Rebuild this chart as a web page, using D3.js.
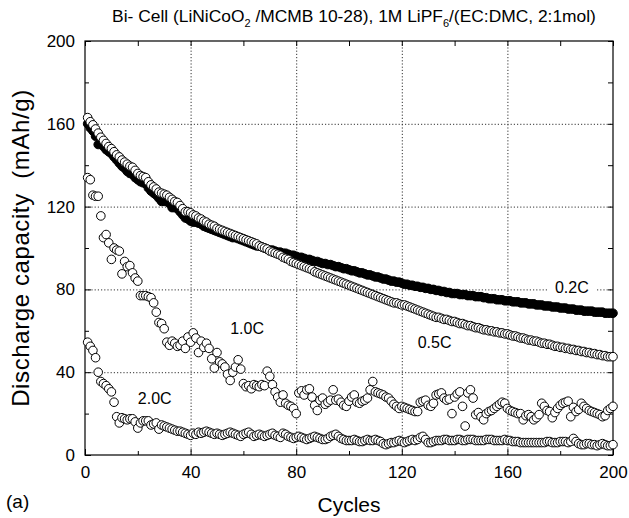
<!DOCTYPE html>
<html>
<head>
<meta charset="utf-8">
<script src="https://cdn.jsdelivr.net/npm/d3@7"></script>
<style>
  body { margin: 0; background: #fff; }
  text { font-family: "Liberation Sans", Arial, sans-serif; fill: #000; }
</style>
</head>
<body>
<svg id="chart"></svg>
<script>
// cycle numbers 1..200
const cycles = d3.range(1, 201);

// discharge capacity (mAh/g) per cycle
const cap02C = [
  160,158,156.5,154,150,150.5,149,147.5,146.5,145.5,
  144,142.5,141,139.5,138.5,137,136,135.5,134,133,
  132,131.5,131,129,127.5,126.5,125.5,124,122.5,122.5,
  122.5,121.5,119.5,119.5,119,117.5,116,114.5,114,113,
  112.5,112.5,112,111.5,110.5,110,109.5,109,108.5,108,
  107.5,107,106.5,106,105.5,105,105,104.5,104,103.5,
  103,102.5,102,101.5,101,101,100.5,100,99.5,99,
  99,98.5,98,98,97.5,97.5,97,96.5,96.5,96,
  95.5,95.5,95,94.5,94.5,94,93.5,93.5,93,92.5,
  92.5,92,92,91.5,91,91,90.5,90,90,89.5,
  89,89,88.5,88,88,87.5,87,87,86.5,86,
  86,85.5,85,85,84.5,84,84,83.5,83.5,83,
  82.5,82.5,82,82,81.5,81.5,81,81,80.5,80.5,
  80,80,79.5,79.5,79,79,78.5,78.5,78,78,
  78,77.5,77.5,77.5,77,77,77,76.5,76.5,76.5,
  76,76,75.5,75.5,75.5,75,75,75,74.5,74.5,
  74.5,74,74,74,73.5,73.5,73.5,73,73,73,
  72.5,72.5,72.5,72,72,72,71.5,71.5,71.5,71,
  71,71,70.5,70.5,70.5,70,70,70,69.5,69.5,
  69.5,69.5,69,69,69,69,68.5,68.5,68.5,68.5
];

const cap05C = [
  163,161,159.5,157.5,155.5,153.5,152,150.5,149,148,
  146.5,145,144,142.5,141.5,140.5,139.5,139,137.5,136,
  135,134.5,134,132,130.5,129.5,128.5,127,126.5,126,
  125.5,124.5,123.5,122.5,122,120.5,119,117.5,117.5,117,
  116,115.5,114.5,114,113,112.5,111.5,111,110.5,109.5,
  109,108.5,108,107.5,107,106.5,106,105.5,105,104.5,
  104,103.5,103,102.5,102,101,100.5,100,99.5,98.5,
  98,97.5,97,96.5,95.5,95,94.5,93.5,93,92.5,
  92,91.5,91,90.5,90,89.5,88.5,88,87.5,87,
  86.5,86,85.5,85,84.5,84,83.5,83,82.5,82,
  81.5,81,80.5,80,79.5,79,78.5,78,77.5,77,
  76.5,76,75.5,75,74.5,74,73.5,73.5,73,72.5,
  72.5,72,71.5,71,70.5,70,69.5,69,68.5,68,
  67.5,67,66.5,66.5,66,65.5,65.5,65,64.5,64.5,
  64,63.5,63.5,63,62.5,62.5,62,61.5,61.5,61,
  60.5,60.5,60,60,59.5,59.5,59,59,58.5,58.5,
  58,57.5,57.5,57,56.5,56.5,56,55.5,55.5,55,
  55,54.5,54,54,53.5,53.5,53,52.5,52.5,52,
  52,51.5,51.5,51,51,50.5,50.5,50,50,49.5,
  49.5,49,49,48.5,48.5,48,48,47.5,47.5,47.5
];

const cap10C = [
  134,133,125.5,125,125,115.5,105,106.5,102.5,94.5,
  100,99,98.5,87.5,93.5,91,91.5,88,85.5,84,
  77,77,77,76.5,76,73.5,69,64,63.5,61,
  54.5,53,55,54,52.5,53,55,51.5,57,54.5,
  59,56.5,49.5,55,52,54,51.5,46.5,42,49.5,
  45,44,42.5,39,36,40,42.5,46,41.5,34.5,
  33,33.5,32,34,33.5,33,34,33.5,40.5,38,
  34,30.5,28,25.5,29,25,24,23.5,22.5,20,
  30,31,29,31.5,32,28,24,21.5,26.5,27.5,
  24.5,25.5,26.5,31.5,26.5,27,25.5,24,23.5,26,
  28,29,25.5,25,26,26.5,27.5,31.5,35.5,30.5,
  30,29.5,29,28,27.5,26,24.5,23.5,22.5,23.5,
  23,22.5,22,21.5,21,21,25.5,26,26.5,24,
  23.5,25,29,29.5,30,27.5,26.5,27,20,28,
  29.5,30.5,23.5,14,30,31.5,27.5,19.5,20.5,18.5,
  17,20,21,21.5,22.5,23.5,24.5,25.5,25,22.5,
  21.5,21,20.5,20,20,17,19,19.5,18.5,17,
  18,19.5,25,23.5,21.5,21,18,20.5,22.5,24,
  25,25.5,26,18.5,23,21,22,25,23.5,22.5,
  21.5,21,20.5,20,19.5,18.5,19,21.5,22.5,23.5
];

const cap20C = [
  54.5,52.5,50.5,47,40,35.5,34.5,33.5,32,30.5,
  25.5,18.5,15.5,18,17.5,17,17.5,17.5,16,13,
  15.5,16.5,16.5,16.5,14.5,15,15.5,12.5,14.5,14,
  13.5,13,12.5,12,11.5,11.5,11,10.5,10,9.5,
  10.5,10,11,10.5,11,11.5,11,10.5,10,10.5,
  10,9.5,10,10.5,11,10.5,10,9.5,9,10,
  10.5,11,10,9,9.5,10,9.5,9,9.5,10,
  10.5,9.5,9,8.5,10.5,10,9,8.5,8,8.5,
  9,8.5,8,7.5,8,8.5,9,8.5,8,7.5,
  7.5,8,9,9.5,10,9,8,7.5,7,7,
  7,7.5,7,6.5,6.5,7,7.5,7,7,7.5,
  7,6.5,5.5,5,5.5,6,6,6.5,7,6.5,
  6,6.5,7,7.5,7,7.5,8.5,9,7.5,6,
  6,6.5,7,7,7,7.5,7.5,7,7,7,
  7.5,7.5,7,7,7.5,7.5,7.5,7,7,7,
  7,7.5,7.5,7.5,7,7,7,7,7.5,7,
  7,6.5,6.5,6.5,6,6,6,6,6,6,
  6,6,6,6,6.5,6.5,6,6,6,6.5,
  6.5,6.5,6,6.5,8,6.5,5.5,5,5,5.5,
  5.5,5,5,4.5,5,5.5,5,4.5,4.5,5
];

const seriesNames = ['0.2C', '0.5C', '1.0C', '2.0C'];
const seriesValues = [cap02C, cap05C, cap10C, cap20C];
const seriesFilled = [true, false, false, false];
const labelPos = [[178, 81], [126, 54.5], [55, 61], [20, 27.5]]; // [cycle, capacity] where each label starts

const majorTicks = [0, 40, 80, 120, 160, 200];
const minorTicks = [20, 60, 100, 140, 180];

const width = 629, height = 518;
const marginTop = 41, marginRight = 16, marginBottom = 63, marginLeft = 85;

const x = d3.scaleLinear([0, 200], [marginLeft, width - marginRight]);
const y = d3.scaleLinear([0, 200], [height - marginBottom, marginTop]);

const svg = d3.select('#chart')
  .attr('width', width)
  .attr('height', height)
  .attr('viewBox', [0, 0, width, height]);

// Dotted grid
svg.append('g')
  .attr('stroke', '#333')
  .attr('stroke-width', 1)
  .attr('stroke-dasharray', '1.2,2')
  .call(g => g.selectAll('.gx')
    .data(majorTicks.slice(1, -1))
    .join('line')
      .attr('x1', d => x(d) + 0.5).attr('x2', d => x(d) + 0.5)
      .attr('y1', y(200)).attr('y2', y(0)))
  .call(g => g.selectAll('.gy')
    .data(majorTicks.slice(1, -1))
    .join('line')
      .attr('x1', x(0)).attr('x2', x(200))
      .attr('y1', d => y(d) + 0.5).attr('y2', d => y(d) + 0.5));

// Axes, ticks pointing inward on all four sides
const styleAxis = g => g
  .call(g => g.select('.domain').remove())
  .call(g => g.selectAll('.tick line').attr('stroke', '#000'))
  .call(g => g.selectAll('.tick text')
    .attr('font-family', '"Liberation Sans", Arial, sans-serif')
    .attr('font-size', 17));

svg.append('g')
  .attr('transform', `translate(0,${y(0)})`)
  .call(d3.axisBottom(x).tickValues(majorTicks).tickSize(-6).tickPadding(11).tickFormat(d3.format('d')))
  .call(styleAxis);
svg.append('g')
  .attr('transform', `translate(0,${y(0)})`)
  .call(d3.axisBottom(x).tickValues(minorTicks).tickSize(-4).tickFormat(''))
  .call(styleAxis);
svg.append('g')
  .attr('transform', `translate(0,${y(200)})`)
  .call(d3.axisTop(x).tickValues(majorTicks.concat(minorTicks)).tickSize(-5).tickFormat(''))
  .call(styleAxis);

svg.append('g')
  .attr('transform', `translate(${x(0)},0)`)
  .call(d3.axisLeft(y).tickValues(majorTicks).tickSize(-6).tickPadding(10).tickFormat(d3.format('d')))
  .call(styleAxis);
svg.append('g')
  .attr('transform', `translate(${x(0)},0)`)
  .call(d3.axisLeft(y).tickValues(minorTicks).tickSize(-4).tickFormat(''))
  .call(styleAxis);
svg.append('g')
  .attr('transform', `translate(${x(200)},0)`)
  .call(d3.axisRight(y).tickValues(majorTicks.concat(minorTicks)).tickSize(-5).tickFormat(''))
  .call(styleAxis);

// Frame
svg.append('rect')
  .attr('x', x(0)).attr('y', y(200))
  .attr('width', x(200) - x(0)).attr('height', y(0) - y(200))
  .attr('fill', 'none').attr('stroke', '#000').attr('stroke-width', 1.2);

// Series labels (0.2C sits on a white patch over the grid line)
const labels = svg.append('g')
  .attr('font-size', 16)
  .selectAll('g')
  .data(seriesNames)
  .join('g')
    .attr('transform', (d, i) => `translate(${x(labelPos[i][0])},${y(labelPos[i][1])})`);
labels.filter((d, i) => i === 0)
  .append('rect')
    .attr('x', -6).attr('y', -11).attr('width', 48).attr('height', 20)
    .attr('fill', '#fff');
labels.append('text')
  .attr('dy', '0.35em')
  .text(d => d);

// Points
seriesValues.forEach((vals, s) => {
  svg.append('g')
    .attr('stroke', '#000')
    .attr('stroke-width', 1)
    .attr('fill', seriesFilled[s] ? '#000' : '#fff')
    .selectAll('circle')
    .data(cycles)
    .join('circle')
      .attr('cx', (c) => x(c))
      .attr('cy', (c, i) => y(vals[i]))
      .attr('r', 4.3);
});

// Title with subscripts
const title = svg.append('text')
  .attr('x', 354)
  .attr('y', 22)
  .attr('text-anchor', 'middle')
  .attr('font-size', 17.4);
title.append('tspan').text('Bi- Cell (LiNiCoO');
title.append('tspan').attr('font-size', 11).attr('dy', 5).text('2');
title.append('tspan').attr('dy', -5).text(' /MCMB 10-28), 1M LiPF');
title.append('tspan').attr('font-size', 11).attr('dy', 5).text('6');
title.append('tspan').attr('dy', -5).text('/(EC:DMC, 2:1mol)');

// Axis titles
svg.append('text')
  .attr('transform', `translate(29,${(y(0) + y(200)) / 2}) rotate(-90)`)
  .attr('text-anchor', 'middle')
  .attr('font-size', 24)
  .attr('letter-spacing', 0.6)
  .style('white-space', 'pre')
  .text('Discharge capacity  (mAh/g)');

svg.append('text')
  .attr('x', (x(0) + x(200)) / 2)
  .attr('y', 512)
  .attr('text-anchor', 'middle')
  .attr('font-size', 21)
  .text('Cycles');

svg.append('text')
  .attr('x', 6)
  .attr('y', 508)
  .attr('font-size', 19)
  .text('(a)');
</script>
</body>
</html>
